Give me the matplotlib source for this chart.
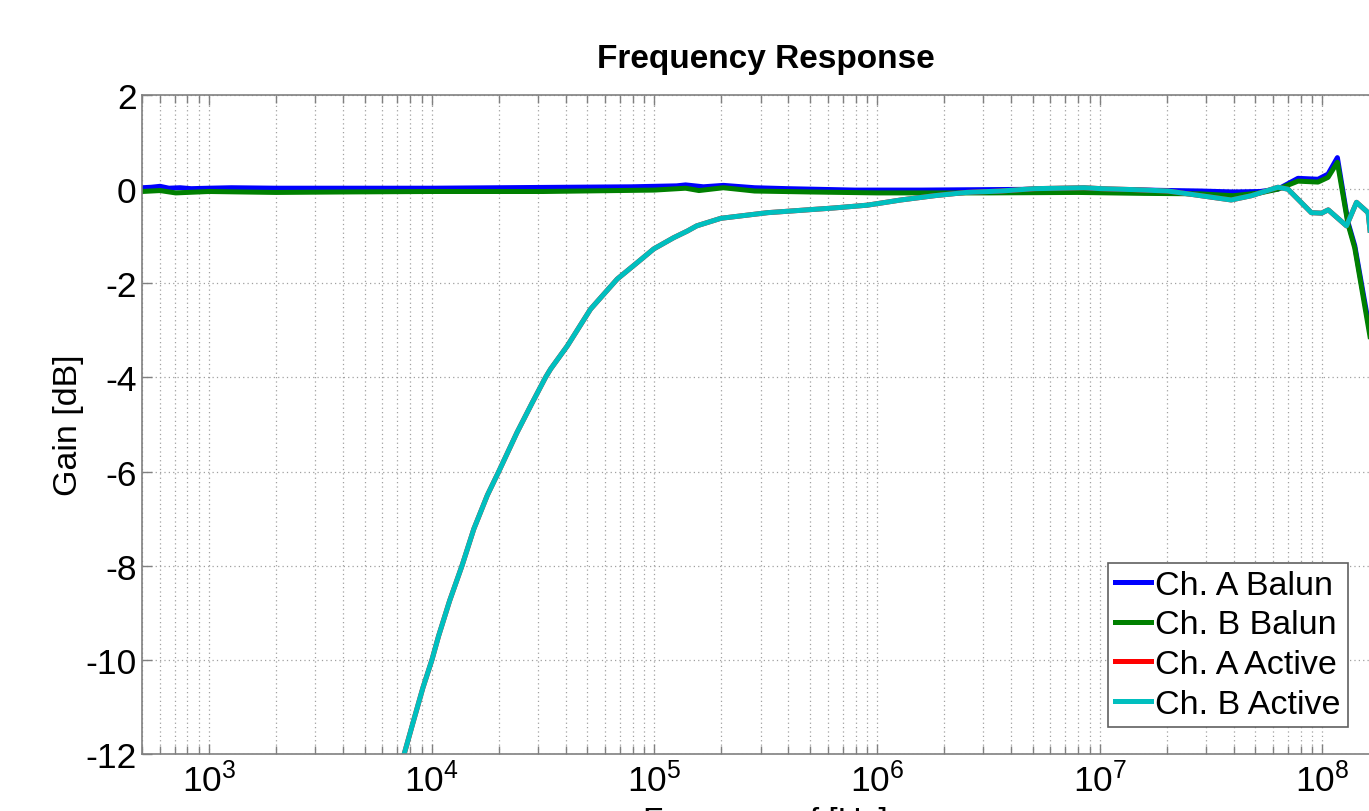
#!/usr/bin/env python3
"""
Frequency response plot: balun vs. active front end, ch. A / ch. B
"""

import numpy as np
import matplotlib
matplotlib.use("Agg")
import matplotlib.pyplot as plt
from matplotlib.ticker import LogLocator, NullFormatter

# --- data (log10 of frequency in Hz, gain in dB) ---
balun_a_logf = [2.699, 2.74, 2.78, 2.82, 2.87, 2.92, 3.0, 3.1, 3.3, 3.6, 4.0, 4.3,
                4.6, 4.9, 5.1, 5.14, 5.22, 5.31, 5.45, 5.6, 5.9, 6.2, 6.5, 6.8,
                7.0, 7.2, 7.455, 7.6, 7.72, 7.80, 7.89, 7.98, 8.025, 8.067,
                8.115, 8.145, 8.216, 8.26]
balun_a_gain = [0.03, 0.04, 0.06, 0.02, 0.03, 0.01, 0.02, 0.03, 0.02, 0.02, 0.02, 0.03,
                0.04, 0.05, 0.07, 0.09, 0.05, 0.08, 0.03, 0.01, -0.02, -0.02, -0.01, 0.0,
                -0.01, -0.02, -0.04, -0.06, -0.05, 0.0, 0.23, 0.21, 0.32, 0.67,
                -0.71, -1.2, -3.1, -5.0]

balun_b_logf = [2.699, 2.78, 2.85, 3.0, 3.3, 3.6, 4.0, 4.5, 5.0, 5.14, 5.2, 5.31,
                5.45, 5.7, 6.0, 6.5, 6.9, 7.2, 7.45, 7.6, 7.72, 7.80, 7.89, 7.98,
                8.025, 8.067, 8.115, 8.145, 8.216, 8.26]
balun_b_gain = [-0.05, -0.03, -0.08, -0.05, -0.07, -0.06, -0.05, -0.05, -0.02, 0.02, -0.03, 0.03,
                -0.04, -0.06, -0.08, -0.08, -0.07, -0.09, -0.10, -0.14, -0.08, 0.0, 0.17, 0.15,
                0.25, 0.57, -0.75, -1.25, -3.2, -5.1]

active_logf = [3.80, 3.874, 3.912, 3.96, 4.001, 4.031, 4.08, 4.136, 4.189, 4.25,
               4.301, 4.383, 4.45, 4.511, 4.534, 4.609, 4.713, 4.833, 4.923, 4.997,
               5.087, 5.148, 5.19, 5.298, 5.508, 5.806, 5.957, 6.107, 6.256, 6.40,
               6.556, 6.706, 6.93, 7.007, 7.15, 7.306, 7.455, 7.59, 7.68, 7.8,
               7.845, 7.95, 7.996, 8.026, 8.108, 8.153, 8.205, 8.23]
active_b_gain = [-14.0, -12.04, -11.4, -10.6, -10.0, -9.49, -8.75, -8.0, -7.22, -6.5,
                 -6.0, -5.17, -4.55, -4.0, -3.82, -3.33, -2.55, -1.91, -1.56, -1.27,
                 -1.03, -0.89, -0.78, -0.62, -0.50, -0.40, -0.34, -0.23, -0.14, -0.07,
                 -0.04, 0.01, 0.03, 0.01, -0.01, -0.04, -0.14, -0.23, -0.14, 0.04,
                 0.0, -0.5, -0.51, -0.44, -0.78, -0.28, -0.5, -1.6]
# ch. A active lies underneath ch. B active on the original plot
active_a_gain = list(active_b_gain)

series_labels = ['Ch. A Balun', 'Ch. B Balun', 'Ch. A Active', 'Ch. B Active']
series_colors = ['#0000ff', '#008000', '#ff0000', '#00bfbf']

yticks = [2, 0, -2, -4, -6, -8, -10, -12]
ytick_labels = ['2', '0', '-2', '-4', '-6', '-8', '-10', '-12']
xticks = [1e3, 1e4, 1e5, 1e6, 1e7, 1e8]
xtick_labels = [r'$\mathregular{10^{%d}}$' % e for e in range(3, 9)]

FONT = ['Liberation Sans', 'DejaVu Sans']
plt.rcParams['font.family'] = FONT
plt.rcParams['mathtext.fontset'] = 'custom'
plt.rcParams['mathtext.rm'] = 'Liberation Sans'
plt.rcParams['mathtext.it'] = 'Liberation Sans:italic'
plt.rcParams['mathtext.bf'] = 'Liberation Sans:bold'


def main():
    W, H = 1369, 812
    fig = plt.figure(figsize=(W / 100, H / 100), dpi=100)

    # axes run past the right edge of the picture (cropped MATLAB export)
    left_px, right_px, top_px, bottom_px = 142, 1389.5, 96, 755
    ax = fig.add_axes([left_px / W, (H - bottom_px) / H,
                       (right_px - left_px) / W, (bottom_px - top_px) / H])

    curves = [
        (balun_a_logf, balun_a_gain),
        (balun_b_logf, balun_b_gain),
        (active_logf, active_a_gain),
        (active_logf, active_b_gain),
    ]
    for (lf, g), lab, col in zip(curves, series_labels, series_colors):
        f = 10 ** np.array(lf)
        ax.plot(f, g, color=col, lw=3.6, label=lab, solid_joinstyle='round')

    ax.set_xscale('log')
    ax.set_xlim(500, 2e8)
    ax.set_ylim(-12, 2)

    ax.set_xticks(xticks, labels=xtick_labels)
    ax.xaxis.set_minor_locator(LogLocator(base=10, subs=np.arange(2, 10), numticks=20))
    ax.xaxis.set_minor_formatter(NullFormatter())
    ax.set_yticks(yticks, labels=ytick_labels)

    grid_kw = dict(color='#a0a0a0', linestyle=(0, (1, 2.5)), linewidth=0.9)
    ax.grid(True, which='major', axis='both', **grid_kw)
    ax.grid(True, which='minor', axis='x', **grid_kw)

    for s in ax.spines.values():
        s.set_color('#808080')
        s.set_linewidth(1.2)
    ax.tick_params(which='both', direction='in', top=True, right=True,
                   color='#808080', width=1.0, labelsize=25.5, labelcolor='black')
    ax.tick_params(which='major', length=7, pad=5)
    ax.tick_params(which='minor', length=6)
    ax.tick_params(axis='y', pad=4)

    ax.set_title('Frequency Response', fontsize=24, fontweight='bold', pad=20)
    ax.set_xlabel('Frequency f [Hz]', fontsize=24, labelpad=6)
    ax.set_ylabel('Gain [dB]', fontsize=24.5, labelpad=1)

    leg = ax.legend(loc='lower right', bbox_to_anchor=(1348 / W, (H - 728) / H),
                    bbox_transform=fig.transFigure, borderaxespad=0,
                    fontsize=24.5, fancybox=False, framealpha=1, edgecolor='#606060',
                    borderpad=0.22, labelspacing=0.25, handlelength=1.05,
                    handletextpad=0.12)
    leg.get_frame().set_linewidth(1.2)

    fig.savefig('out.png', dpi=100)


if __name__ == "__main__":
    main()
